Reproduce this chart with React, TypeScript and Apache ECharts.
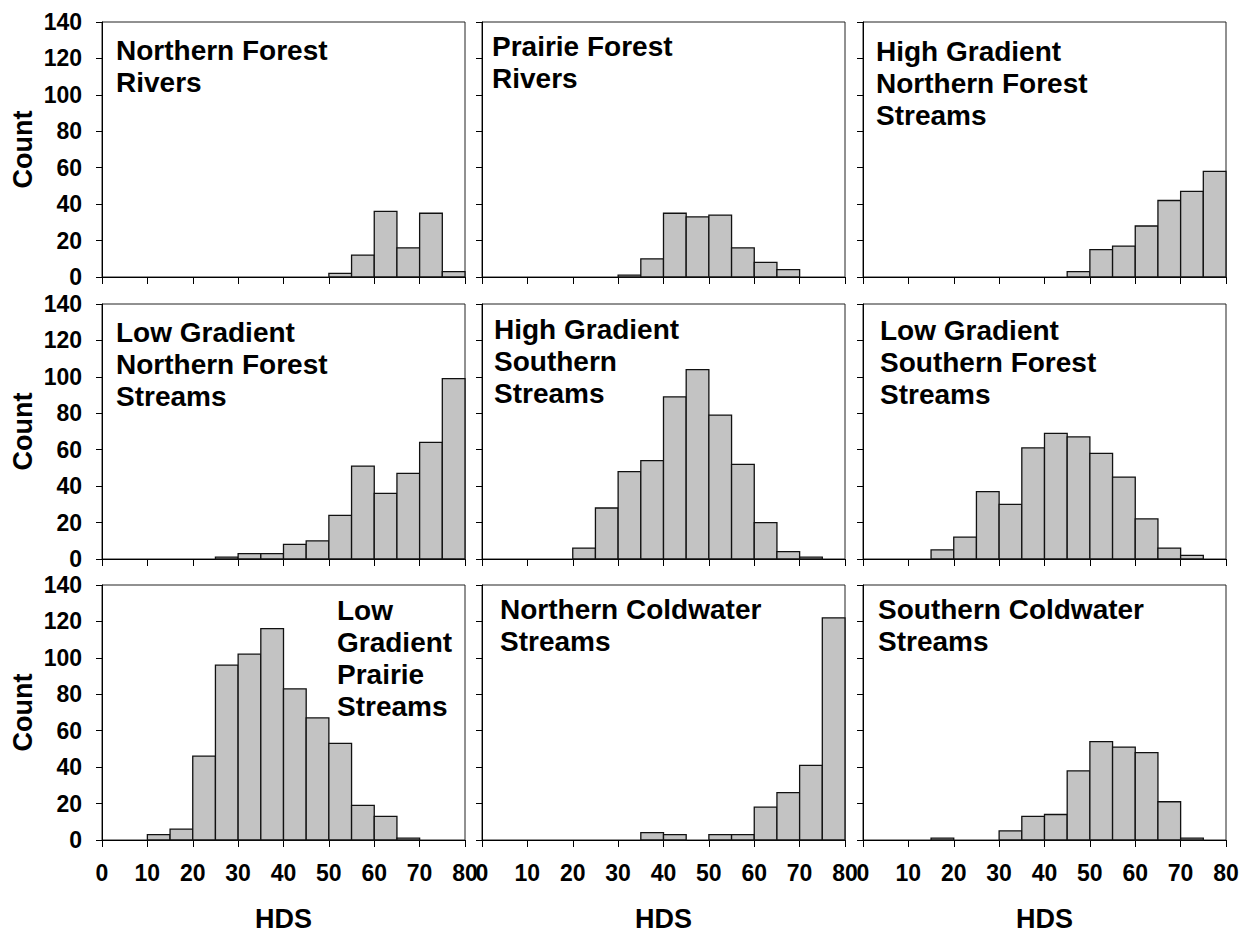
import React, { useEffect, useRef } from "react";
import * as echarts from "echarts";

// Bin starts (HDS), width 5
const binStarts = [0, 5, 10, 15, 20, 25, 30, 35, 40, 45, 50, 55, 60, 65, 70, 75];
const binWidth = 5;

const northernForestRivers = [0, 0, 0, 0, 0, 0, 0, 0, 0, 0, 2, 12, 36, 16, 35, 3];
const prairieForestRivers = [0, 0, 0, 0, 0, 0, 1, 10, 35, 33, 34, 16, 8, 4, 0, 0];
const highGradNorthernForest = [0, 0, 0, 0, 0, 0, 0, 0, 0, 3, 15, 17, 28, 42, 47, 58];
const lowGradNorthernForest = [0, 0, 0, 0, 0, 1, 3, 3, 8, 10, 24, 51, 36, 47, 64, 99];
const highGradSouthern = [0, 0, 0, 0, 6, 28, 48, 54, 89, 104, 79, 52, 20, 4, 1, 0];
const lowGradSouthernForest = [0, 0, 0, 5, 12, 37, 30, 61, 69, 67, 58, 45, 22, 6, 2, 0];
const lowGradPrairie = [0, 0, 3, 6, 46, 96, 102, 116, 83, 67, 53, 19, 13, 1, 0, 0];
const northernColdwater = [0, 0, 0, 0, 0, 0, 0, 4, 3, 0, 3, 3, 18, 26, 41, 122];
const southernColdwater = [0, 0, 0, 1, 0, 0, 5, 13, 14, 38, 54, 51, 48, 21, 1, 0];

const panelTitles = [
  "Northern Forest\nRivers",
  "Prairie Forest\nRivers",
  "High Gradient\nNorthern Forest\nStreams",
  "Low Gradient\nNorthern Forest\nStreams",
  "High Gradient\nSouthern\nStreams",
  "Low Gradient\nSouthern Forest\nStreams",
  "Low\nGradient\nPrairie\nStreams",
  "Northern Coldwater\nStreams",
  "Southern Coldwater\nStreams",
];
const panelData = [
  northernForestRivers,
  prairieForestRivers,
  highGradNorthernForest,
  lowGradNorthernForest,
  highGradSouthern,
  lowGradSouthernForest,
  lowGradPrairie,
  northernColdwater,
  southernColdwater,
];

const xTicks = { min: 0, max: 80, interval: 10 };
const yTicks = { min: 0, max: 140, interval: 20 };
const xAxisTitle = "HDS";
const yAxisTitle = "Count";

// layout (pixels)
const colLefts = [102, 482, 863];
const rowTops = [22, 304, 585];
const gridW = 363;
const gridH = 255;
const titlePos = [
  [116, 34], [492, 30], [876, 35],
  [116, 316], [494, 313], [880, 314],
  [337, 594], [500, 593], [878, 593],
];

const FONT = 'Arial, "Liberation Sans", sans-serif';

export default function App() {
  const ref = useRef<HTMLDivElement>(null);
  useEffect(() => {
    document.body.style.margin = "0";
    const chart = echarts.init(ref.current!, null, { renderer: "svg" });
    const grids: any[] = [];
    const xAxes: any[] = [];
    const yAxes: any[] = [];
    const series: any[] = [];
    const titles: any[] = [];
    for (let i = 0; i < 9; i++) {
      const r = Math.floor(i / 3);
      const c = i % 3;
      grids.push({
        left: colLefts[c],
        top: rowTops[r],
        width: gridW,
        height: gridH,
        show: true,
        borderColor: "#222",
        borderWidth: 1,
        backgroundColor: "transparent",
      });
      xAxes.push({
        type: "value",
        gridIndex: i,
        min: xTicks.min,
        max: xTicks.max,
        interval: xTicks.interval,
        axisLine: { show: true, onZero: false, lineStyle: { color: "#000", width: 1 } },
        axisTick: { show: true, inside: false, length: 7, lineStyle: { color: "#000" } },
        axisLabel: {
          show: r === 2,
          fontSize: 23,
          fontWeight: "bold",
          color: "#000",
          fontFamily: FONT,
          margin: 21,
        },
        splitLine: { show: false },
      });
      yAxes.push({
        type: "value",
        gridIndex: i,
        min: yTicks.min,
        max: yTicks.max,
        interval: yTicks.interval,
        axisLine: { show: true, lineStyle: { color: "#000", width: 1 } },
        axisTick: { show: true, inside: false, length: 6, lineStyle: { color: "#000" } },
        axisLabel: {
          show: c === 0,
          fontSize: 23,
          fontWeight: "bold",
          color: "#000",
          fontFamily: FONT,
          margin: 20,
        },
        splitLine: { show: false },
      });
      const data = binStarts
        .map((b, k) => [b, panelData[i][k]])
        .filter((d) => d[1] > 0);
      series.push({
        type: "custom",
        xAxisIndex: i,
        yAxisIndex: i,
        data,
        encode: { x: 0, y: 1 },
        renderItem: (params: any, api: any) => {
          const x0 = api.value(0);
          const v = api.value(1);
          const p0 = api.coord([x0, v]);
          const p1 = api.coord([x0 + binWidth, 0]);
          return {
            type: "rect",
            shape: { x: p0[0], y: p0[1], width: p1[0] - p0[0], height: p1[1] - p0[1] },
            style: { fill: "#c3c3c3", stroke: "#111", lineWidth: 1.3 },
          };
        },
      });
      titles.push({
        text: panelTitles[i],
        left: titlePos[i][0],
        top: titlePos[i][1],
        padding: 0,
        textStyle: {
          fontSize: 28,
          fontWeight: "bold",
          color: "#000",
          fontFamily: FONT,
          lineHeight: 32,
        },
      });
    }
    const graphics: any[] = [];
    for (let r = 0; r < 3; r++) {
      graphics.push({
        type: "text",
        x: 23,
        y: rowTops[r] + gridH / 2,
        rotation: Math.PI / 2,
        style: {
          text: yAxisTitle,
          fontSize: 27,
          fontWeight: "bold",
          fontFamily: FONT,
          fill: "#000",
          align: "center",
          verticalAlign: "middle",
        },
      });
    }
    for (let c = 0; c < 3; c++) {
      graphics.push({
        type: "text",
        x: colLefts[c] + gridW / 2,
        y: 919,
        style: {
          text: xAxisTitle,
          fontSize: 27,
          fontWeight: "bold",
          fontFamily: FONT,
          fill: "#000",
          align: "center",
          verticalAlign: "middle",
        },
      });
    }
    chart.setOption({
      animation: false,
      backgroundColor: "#fff",
      title: titles,
      grid: grids,
      xAxis: xAxes,
      yAxis: yAxes,
      series,
      graphic: graphics,
    });
    return () => chart.dispose();
  }, []);
  return <div ref={ref} style={{ width: 1247, height: 935 }} />;
}
